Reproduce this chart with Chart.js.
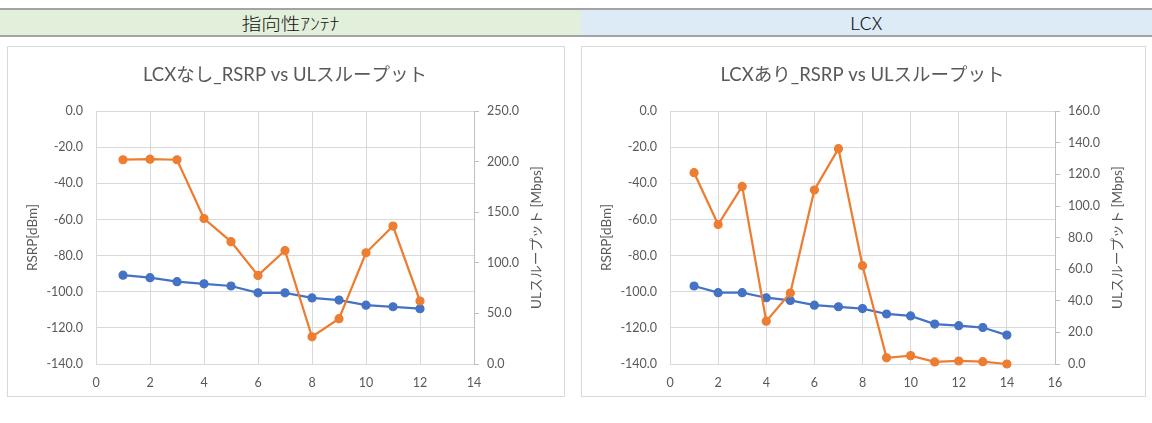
<!DOCTYPE html>
<html>
<head>
<meta charset="utf-8">
<script src="https://cdn.jsdelivr.net/npm/chart.js@4.4.1/dist/chart.umd.min.js"></script>
<style>
  html, body { margin: 0; padding: 0; background: #fff; width: 1152px; height: 423px; overflow: hidden; }
  .rule { position: absolute; left: 0; width: 1152px; height: 2px; background: #a3a3a3; }
  .band { position: absolute; top: 10px; height: 25px; display: flex; align-items: center; justify-content: center;
          font-family: 'Noto Sans CJK JP', sans-serif; font-size: 17px; font-weight: 300; color: #111; }
  .band span { display: inline-block; transform: scaleX(1.15); }
  .panel { position: absolute; top: 46px; border: 1px solid #d9d9d9; background: #fff; }
  canvas { display: block; }
</style>
</head>
<body>
  <div class="band" style="left:0; width:581px; background:#e2efda;"><span>指向性ｱﾝﾃﾅ</span></div>
  <div class="band" style="left:581px; width:571px; background:#ddebf7;"><span>LCX</span></div>
  <div class="rule" style="top:8px;"></div>
  <div class="rule" style="top:35px;"></div>

  <div class="panel" style="left:7px; width:556px; height:349px;">
    <canvas id="noLcx" width="556" height="349"></canvas>
  </div>
  <div class="panel" style="left:581px; width:563px; height:349px;">
    <canvas id="withLcx" width="563" height="349"></canvas>
  </div>

<script>
// Measurement points (position index) and readings for each setup
const noLcxIndex = [1, 2, 3, 4, 5, 6, 7, 8, 9, 10, 11, 12];
const noLcxRsrp  = [-90.8, -92.2, -94.4, -95.6, -96.8, -100.6, -100.6, -103.4, -104.6, -107.4, -108.3, -109.4];
const noLcxUl    = [202.0, 202.6, 202.0, 143.9, 121.0, 87.6, 112.2, 26.9, 44.8, 110.0, 136.4, 62.3];

const lcxIndex = [1, 2, 3, 4, 5, 6, 7, 8, 9, 10, 11, 12, 13, 14];
const lcxRsrp  = [-96.8, -100.5, -100.5, -103.3, -104.8, -107.4, -108.3, -109.3, -112.3, -113.4, -117.9, -118.8, -119.8, -124.0];
const lcxUl    = [121.1, 88.3, 112.4, 27.1, 44.9, 110.1, 136.3, 62.2, 3.9, 5.3, 1.3, 1.9, 1.5, 0.0];

// Axis ranges
const rsrpRange = { min: -140, max: 0, step: 20 };
const noLcxUlRange = { min: 0, max: 250, step: 50 };
const lcxUlRange = { min: 0, max: 160, step: 20 };

const FONT = "Lato, 'Noto Sans CJK JP', sans-serif";
const TEXT = '#595959';
const GRID = '#d9d9d9';
const BLUE = '#4472c4';
const ORANGE = '#ed7d31';
const AXIS_TITLE_SIZE = 13.5;

// Right-hand axis title, written bottom-to-top like the left one
const sideTitle = {
  id: 'sideTitle',
  afterDraw(chart, args, opts) {
    const s = chart.scales.y1;
    const ca = chart.chartArea;
    const ctx = chart.ctx;
    ctx.save();
    ctx.translate(s.right - opts.offset, (ca.top + ca.bottom) / 2);
    ctx.rotate(-Math.PI / 2);
    ctx.font = AXIS_TITLE_SIZE + 'px ' + FONT;
    ctx.fillStyle = TEXT;
    ctx.textAlign = 'center';
    ctx.textBaseline = 'middle';
    ctx.fillText(opts.text, 0, 0);
    ctx.restore();
  }
};

function pairs(xs, ys) { return xs.map((x, i) => ({ x: x, y: ys[i] })); }

function makeChart(id, title, xs, rsrp, ul, xMax, ulRange) {
  const series = (label, data, color, axis, order) => ({
    label, data, yAxisID: axis, order,
    borderColor: color, backgroundColor: color,
    borderWidth: 2.25, tension: 0,
    pointRadius: 4, pointHoverRadius: 4, pointBorderWidth: 1.2,
    pointBackgroundColor: color, pointBorderColor: color,
    clip: 8
  });
  return new Chart(document.getElementById(id), {
    type: 'line',
    data: {
      datasets: [
        series('ULスループット', pairs(xs, ul), ORANGE, 'y1', 0),
        series('RSRP', pairs(xs, rsrp), BLUE, 'y', 1)
      ]
    },
    options: {
      responsive: false,
      animation: false,
      events: [],
      layout: { padding: { left: 14, right: 16, top: 0, bottom: 0 } },
      plugins: {
        legend: { display: false },
        tooltip: { enabled: false },
        title: {
          display: true, text: title, color: TEXT,
          font: { family: FONT, size: 18.5, weight: 'normal' },
          padding: { top: 17, bottom: 25 }
        },
        sideTitle: { text: 'ULスループット [Mbps]', offset: 11 }
      },
      scales: {
        x: {
          type: 'linear', min: 0, max: xMax,
          ticks: { stepSize: 2, color: TEXT, font: { family: FONT, size: 12.5 }, padding: 11 },
          grid: { color: GRID, lineWidth: 1, drawTicks: false },
          border: { color: GRID },
          afterFit(s) { s.height = 32; }
        },
        y: {
          position: 'left', min: rsrpRange.min, max: rsrpRange.max,
          ticks: { stepSize: rsrpRange.step, color: TEXT, font: { family: FONT, size: 12.5 }, padding: 13,
                   callback: v => v.toFixed(1) },
          grid: { color: GRID, lineWidth: 1, drawTicks: false },
          border: { color: GRID },
          title: { display: true, text: 'RSRP[dBm]', color: TEXT, font: { family: FONT, size: AXIS_TITLE_SIZE }, padding: { top: 3, bottom: 4 } },
          afterFit(s) { s.width = 74; }
        },
        y1: {
          position: 'right', min: ulRange.min, max: ulRange.max,
          ticks: { stepSize: ulRange.step, color: TEXT, font: { family: FONT, size: 12.5 }, padding: 8,
                   callback: v => v.toFixed(1) },
          grid: { drawOnChartArea: false, drawTicks: true, tickLength: 5, color: '#bfbfbf' },
          border: { color: '#bfbfbf' },
          afterFit(s) { s.width = 74; }
        }
      }
    },
    plugins: [sideTitle]
  });
}

makeChart('noLcx', 'LCXなし_RSRP vs ULスループット', noLcxIndex, noLcxRsrp, noLcxUl, 14, noLcxUlRange);
makeChart('withLcx', 'LCXあり_RSRP vs ULスループット', lcxIndex, lcxRsrp, lcxUl, 16, lcxUlRange);
</script>
</body>
</html>
